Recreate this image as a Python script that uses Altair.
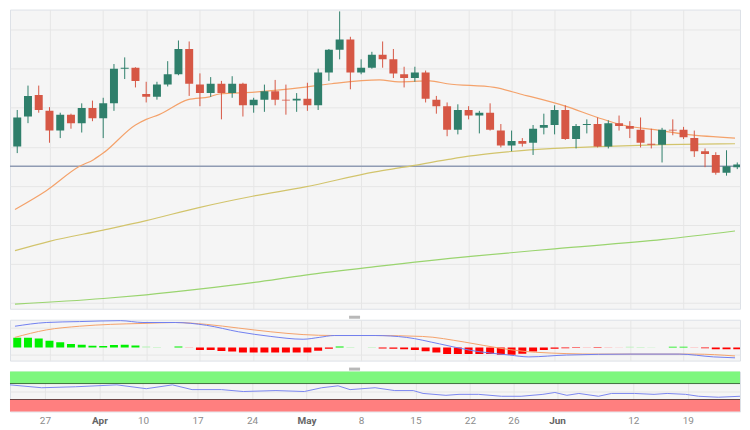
import altair as alt
import pandas as pd

# ---------------- data (XAU/USD daily) ----------------
idx = list(range(68))
opens = [1940.2, 1971.0, 1993.1, 1976.8, 1956.6, 1972.9, 1964.2, 1979.6, 1969.1, 1984.5,
         2020.0, 2021.0, 1994.1, 1991.2, 2003.7, 2014.3, 2040.2, 2003.7, 1995.0, 2004.6,
         1995.0, 2004.6, 1982.5, 1988.3, 1996.9, 1988.3, 1987.3, 1989.3, 1982.5, 2016.2,
         2039.3, 2049.8, 2016.2, 2021.0, 2034.4, 2029.6, 2014.3, 2010.4, 2016.2, 1988.3,
         1981.6, 1957.5, 1977.7, 1972.0, 1974.9, 1956.6, 1941.2, 1946.0, 1944.1, 1959.4,
         1962.3, 1977.7, 1947.9, 1962.3, 1963.3, 1940.2, 1964.2, 1961.4, 1957.5, 1943.1,
         1942.1, 1957.5, 1957.5, 1948.9, 1935.4, 1931.6, 1913.3, 1919.1]
highs = [1977.7, 2002.7, 2002.7, 1980.6, 1974.9, 1973.9, 1984.5, 1987.3, 1990.2, 2024.8,
         2031.6, 2021.5, 2006.6, 2006.6, 2027.7, 2048.9, 2047.9, 2015.2, 2011.4, 2007.5,
         2012.3, 2005.6, 1990.2, 2003.7, 2008.5, 2003.7, 1995.0, 2005.6, 2020.0, 2040.2,
         2078.7, 2052.7, 2029.6, 2037.3, 2047.9, 2040.2, 2022.0, 2022.0, 2018.1, 1992.1,
         1985.4, 1983.5, 1981.6, 1976.8, 1984.5, 1963.3, 1956.6, 1948.9, 1962.3, 1973.9,
         1982.5, 1982.5, 1963.3, 1968.1, 1970.0, 1967.1, 1972.0, 1966.2, 1970.0, 1958.5,
         1959.4, 1968.1, 1960.4, 1956.6, 1938.3, 1934.4, 1936.4, 1923.9]
lows = [1933.5, 1964.2, 1974.9, 1944.1, 1948.9, 1958.5, 1954.6, 1966.2, 1948.9, 1976.8,
        2009.4, 2000.8, 1985.4, 1988.3, 2001.8, 2013.3, 1992.1, 1981.6, 1991.2, 1968.1,
        1990.2, 1971.0, 1974.9, 1975.8, 1982.5, 1972.9, 1975.8, 1976.8, 1977.7, 2007.5,
        2029.6, 1998.9, 2014.3, 2020.0, 2021.0, 2010.4, 2000.8, 2006.6, 1985.4, 1973.9,
        1950.8, 1952.7, 1968.1, 1953.7, 1956.6, 1939.3, 1935.4, 1940.2, 1931.6, 1952.7,
        1952.7, 1947.0, 1938.3, 1953.7, 1939.3, 1938.3, 1956.6, 1948.9, 1939.3, 1938.3,
        1923.9, 1951.8, 1947.9, 1929.6, 1919.1, 1911.4, 1910.4, 1917.1]
closes = [1970.0, 1992.1, 1977.7, 1956.6, 1972.9, 1964.2, 1979.6, 1969.1, 1984.5, 2020.0,
          2021.0, 2007.5, 1991.2, 2003.7, 2014.3, 2040.2, 2004.6, 1995.0, 2004.6, 1995.0,
          2004.6, 1982.5, 1988.3, 1996.9, 1988.3, 1987.3, 1989.3, 1982.5, 2016.2, 2039.3,
          2049.8, 2016.2, 2021.0, 2034.4, 2029.6, 2015.2, 2010.4, 2016.2, 1989.3, 1981.6,
          1957.5, 1977.7, 1972.0, 1974.9, 1957.5, 1941.2, 1946.0, 1943.1, 1958.5, 1962.3,
          1977.7, 1947.9, 1961.4, 1963.3, 1940.2, 1964.2, 1961.4, 1958.5, 1944.1, 1942.1,
          1957.5, 1956.6, 1949.8, 1935.4, 1932.5, 1913.3, 1920.0, 1921.9]

# moving averages (sparse points)
ma_fast_i = [-0.21, 2.7, 5.8, 7.1, 8.0, 11.0, 12.0, 13.2, 15.9, 17.9, 18.8, 22.1, 26.6,
             29.25, 33.7, 35.5, 38.4, 40.0, 44.4, 46.8, 51.0, 54.0, 56.3, 59.3, 62.3, 66.79]
ma_fast_v = [1875.8, 1895.0, 1920.0, 1926.8, 1933.5, 1962.3, 1968.1, 1972.9, 1988.3, 1991.2,
             1994.1, 1996.0, 2000.8, 2004.6, 2008.5, 2006.6, 2007.5, 2004.6, 2000.8, 1994.1,
             1981.6, 1970.0, 1962.3, 1957.5, 1952.7, 1948.9]
ma_mid_i = [-0.21, 3.0, 8.0, 12.0, 16.9, 21.9, 26.8, 33.3, 36.0, 40.0, 42.2, 44.4, 50.0,
            54.1, 60.1, 66.79]
ma_mid_v = [1833.5, 1843.1, 1854.6, 1864.3, 1877.7, 1889.3, 1898.9, 1914.3, 1919.1, 1926.8,
            1930.6, 1933.5, 1938.3, 1940.2, 1942.1, 1943.1]
ma_slow_i = [-0.21, 8.0, 12.0, 16.9, 21.9, 26.8, 33.3, 42.2, 50.0, 60.1, 66.79]
ma_slow_v = [1778.7, 1784.5, 1788.3, 1794.1, 1800.8, 1808.5, 1817.1, 1827.7, 1835.4, 1845.0,
             1853.7]
level = [1920.0]

# MACD
macd_i = [-0.21, 2.7, 5.8, 9.6, 11.7, 14.7, 17.6, 20.6, 23.6, 26.6, 28.1, 29.5, 33.3, 36.2,
          39.3, 42.2, 45.8, 47.6, 51.1, 57.1, 61.6, 64.8, 66.79]
macd_v = [23, 27, 28, 29, 27, 27, 24, 17, 12, 9, 11, 13, 13, 11, 4, -3, -8, -10, -8, -7, -7,
          -10, -11]
sig_i = [-0.21, 2.7, 5.8, 8.7, 11.7, 14.7, 17.6, 20.6, 23.6, 26.6, 29.5, 33.3, 37.7, 41.6,
         45.1, 48.2, 54.1, 63.0, 66.79]
sig_v = [11, 19, 23, 25, 26, 27, 25, 21, 17, 14, 13, 13, 12, 6, -1, -5, -7, -7, -9]
hist = [10.7, 10.7, 9.7, 7.3, 5.7, 4.0, 3.0, 2.0, 1.7, 2.7,
        3.0, 2.3, 1.3, 0.7, 0.2, 1.3, -0.5, -2.7, -2.7, -3.7,
        -4.3, -5.3, -5.3, -5.3, -5.3, -5.3, -5.3, -5.3, -3.3, -1.3,
        1.3, 0.7, 0.2, 0.7, -1.0, -1.3, -1.7, -2.7, -4.0, -5.3,
        -7.0, -7.0, -7.0, -7.0, -7.0, -7.7, -7.7, -6.7, -4.3, -2.7,
        -1.3, -0.7, -0.5, -0.3, -0.5, -0.3, -0.2, 1.0, 0.7, 0.3,
        0.2, 1.0, 1.0, -0.3, -0.7, -1.7, -1.7, -1.7]
hist_light = [12, 13, 14, 16, 31, 32, 33, 53, 55, 56, 57, 58, 59, 60, 63]

# RSI
rsi_i = [-0.21, 2.7, 5.8, 9.6, 12.3, 14.7, 16.5, 19.2, 21.2, 24.2, 26.8, 28.4, 29.9, 31.0,
         33.3, 35.1, 36.8, 37.7, 39.8, 41.0, 42.8, 44.9, 46.7, 48.7, 49.8, 50.9, 52.0, 53.8,
         55.0, 57.1, 58.9, 60.1, 61.8, 63.0, 64.8, 66.79]
rsi_v = [66.7, 59.5, 61.9, 66.7, 57.1, 66.7, 54.8, 54.8, 50.0, 52.4, 50.0, 59.5, 64.3, 54.8,
         59.5, 52.4, 52.4, 45.2, 40.5, 42.9, 42.9, 38.1, 38.1, 42.9, 47.6, 40.5, 45.2, 38.1,
         45.2, 45.2, 42.9, 45.2, 42.9, 38.1, 35.7, 38.1]
rsi_band_lo = [70, 0]
rsi_band_hi = [100, 30]
rsi_band_kind = ["over", "under"]

# x-axis labels
label_idx = [3, 8, 12, 17, 22, 27, 32, 37, 42, 46, 50, 57, 62]
label_txt = ["27", "Apr", "10", "17", "24", "May", "8", "15", "22", "26", "Jun", "12", "19"]
month_idx = [8, 27, 50]

# ---------------- styling ----------------
W = 732
H_MAIN, H_MACD, H_RSI = 300, 41, 40
XDOM = [-0.21, 66.79]
GREEN, RED = "#2f7f6b", "#d65745"
C_FAST, C_MID, C_SLOW = "#f4a26b", "#d2c46c", "#9ad46f"
GRID = "#e6e6e6"

xs = alt.Scale(domain=XDOM, nice=False, zero=False)
x_plain = alt.Axis(values=label_idx, labels=False, ticks=False, domain=False, grid=True,
                   gridColor=GRID, title=None, minExtent=0)

lab_expr = "[" + ",".join("'%s'" % t for t in label_txt) + "][indexof([" + \
    ",".join(str(v) for v in label_idx) + "], datum.value)]"
month_test = "indexof([" + ",".join(str(v) for v in month_idx) + "], datum.value) >= 0"
x_labeled = alt.Axis(values=label_idx, labels=True, ticks=False, domain=False, grid=True,
                     gridColor=GRID, title=None, labelExpr=lab_expr, labelFontSize=10,
                     labelFont="Roboto", labelPadding=4, labelFlush=False,
                     labelColor={"condition": {"test": month_test, "value": "#666666"},
                                 "value": "#8c8c8c"},
                     labelFontWeight={"condition": {"test": month_test, "value": "bold"},
                                      "value": "normal"})


def yaxis(vals):
    return alt.Axis(values=vals, labels=False, ticks=False, domain=False, grid=True,
                    gridColor=GRID, title=None, minExtent=0)


# ---------------- main price panel ----------------
cdf = pd.DataFrame({"i": idx, "open": opens, "high": highs, "low": lows, "close": closes})
cdf["dir"] = ["up" if cl >= op else "down" for op, cl in zip(opens, closes)]
ys_main = alt.Scale(domain=[1774, 2080.6], nice=False, zero=False)
cand_color = alt.Color("dir:N", scale=alt.Scale(domain=["up", "down"], range=[GREEN, RED]),
                       legend=None)
price_grid = list(range(1780, 2081, 20))

wicks = alt.Chart(cdf).mark_rule(strokeWidth=1, clip=True).encode(
    x=alt.X("i:Q", scale=xs, axis=x_plain),
    y=alt.Y("low:Q", scale=ys_main, axis=yaxis(price_grid)),
    y2="high:Q",
    color=cand_color,
)
bodies = alt.Chart(cdf).mark_bar(size=8, clip=True).encode(
    x=alt.X("i:Q", scale=xs),
    y=alt.Y("open:Q", scale=ys_main),
    y2="close:Q",
    color=cand_color,
)


def ma_line(xi, yv, color):
    d = pd.DataFrame({"i": xi, "v": yv})
    return alt.Chart(d).mark_line(color=color, strokeWidth=1.2, clip=True,
                                  interpolate="monotone").encode(
        x=alt.X("i:Q", scale=xs), y=alt.Y("v:Q", scale=ys_main))


lvl = alt.Chart(pd.DataFrame({"v": level})).mark_rule(color="#8f9bb3", strokeWidth=1.5).encode(
    y=alt.Y("v:Q", scale=ys_main))

main = alt.layer(
    lvl,
    ma_line(ma_slow_i, ma_slow_v, C_SLOW),
    ma_line(ma_mid_i, ma_mid_v, C_MID),
    ma_line(ma_fast_i, ma_fast_v, C_FAST),
    wicks, bodies,
).properties(width=W, height=H_MAIN)

# ---------------- MACD panel ----------------
ys_macd = alt.Scale(domain=[-14, 30], nice=False, zero=False)
hdf = pd.DataFrame({"i": idx, "h": hist})
hdf["kind"] = [("pos" if h >= 0 else "neg") + ("_l" if k in hist_light else "")
               for k, h in zip(idx, hist)]
hbars = alt.Chart(hdf).mark_bar(size=8, clip=True).encode(
    x=alt.X("i:Q", scale=xs, axis=x_plain),
    y=alt.Y("h:Q", scale=ys_macd, axis=yaxis([-8, 21])),
    y2=alt.datum(0),
    color=alt.Color("kind:N", scale=alt.Scale(
        domain=["pos", "pos_l", "neg", "neg_l"],
        range=["#00f000", "#b4f3b4", "#ff0000", "#ffb4b4"]), legend=None),
)
macd_line = alt.Chart(pd.DataFrame({"i": macd_i, "v": macd_v})).mark_line(
    color="#7080f0", strokeWidth=1, clip=True, interpolate="monotone").encode(
    x=alt.X("i:Q", scale=xs), y=alt.Y("v:Q", scale=ys_macd))
sig_line = alt.Chart(pd.DataFrame({"i": sig_i, "v": sig_v})).mark_line(
    color=C_FAST, strokeWidth=1, clip=True, interpolate="monotone").encode(
    x=alt.X("i:Q", scale=xs), y=alt.Y("v:Q", scale=ys_macd))
handle = alt.Chart(pd.DataFrame({"k": [0]})).mark_rect(color="#b8b8b8").encode(
    x=alt.value(340), x2=alt.value(351), y=alt.value(-4), y2=alt.value(-1))

macd = alt.layer(hbars, sig_line, macd_line, handle).properties(width=W, height=H_MACD)

# ---------------- RSI panel ----------------
ys_rsi = alt.Scale(domain=[0, 100], nice=False, zero=False)
bdf = pd.DataFrame({"lo": rsi_band_lo, "hi": rsi_band_hi, "kind": rsi_band_kind})
bands = alt.Chart(bdf).mark_rect().encode(
    x=alt.value(0), x2=alt.value("width"),
    y=alt.Y("lo:Q", scale=ys_rsi, axis=yaxis([50])),
    y2="hi:Q",
    color=alt.Color("kind:N", scale=alt.Scale(domain=["over", "under"],
                                              range=["#7ef77e", "#ff7f7f"]), legend=None),
)
r70 = alt.Chart(pd.DataFrame({"v": [70]})).mark_rule(color="#3f6f3f", strokeWidth=1).encode(
    y=alt.Y("v:Q", scale=ys_rsi))
r30 = alt.Chart(pd.DataFrame({"v": [30]})).mark_rule(color="#6b4343", strokeWidth=1).encode(
    y=alt.Y("v:Q", scale=ys_rsi))
rsi_line = alt.Chart(pd.DataFrame({"i": rsi_i, "v": rsi_v})).mark_line(
    color="#7b87f0", strokeWidth=1, clip=True).encode(
    x=alt.X("i:Q", scale=xs, axis=x_labeled), y=alt.Y("v:Q", scale=ys_rsi))

rsi = alt.layer(bands, r70, r30, rsi_line, handle).properties(width=W, height=H_RSI)

chart = alt.vconcat(main, macd, rsi, spacing=5).resolve_scale(
    color="independent"
).properties(
    padding=0, background="white"
).configure_view(fill="#f5f5f5", stroke="#dde1e7", strokeWidth=1)

chart.save("out.html", embed_options={"renderer": "svg", "actions": False})
